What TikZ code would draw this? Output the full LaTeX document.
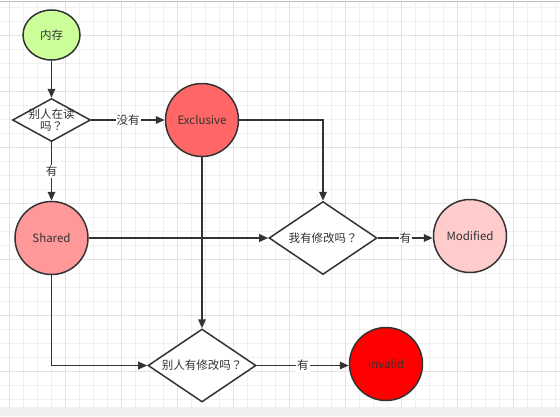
\documentclass[tikz,border=0pt]{standalone}
\usepackage{fontspec}
\setmainfont{Noto Sans CJK SC}
\newfontfamily\qmark{Noto Sans CJK TC}
\usetikzlibrary{shapes.geometric,arrows.meta}

\definecolor{linegray}{HTML}{333333}
\definecolor{textgray}{HTML}{333333}
\definecolor{gridminor}{HTML}{F0F0F0}
\definecolor{gridmajor}{HTML}{E2E2E2}
\definecolor{memgreen}{HTML}{CCFF99}
\definecolor{exclred}{HTML}{FF6666}
\definecolor{sharedred}{HTML}{FF9999}
\definecolor{modpink}{HTML}{FFCCCC}
\definecolor{invred}{HTML}{FF0000}

\tikzset{every picture/.style={line width=1.5pt}}

\begin{document}
\begin{tikzpicture}[x=1pt,y=1pt,yscale=-1,xscale=1,
  txt/.style={text=textgray,font=\fontsize{11.5}{13.5}\selectfont},
  state/.style={circle,draw=linegray,line width=1.5pt,minimum size=73pt,inner sep=0pt,txt},
  ask/.style={diamond,draw=linegray,line width=1.5pt,fill=white,inner sep=0pt},
  flow/.style={draw=linegray,line width=1.7pt,-{Triangle[length=9pt,width=7.5pt]}},
  yes/.style={fill=white,inner sep=1pt,txt}]
\useasboundingbox (0,0) rectangle (560,416);

%Background grid
\fill[white] (0,0) rectangle (560,416);
\foreach \x in {9.3,23.3,...,560} \draw[gridminor,line width=1pt] (\x,2) -- (\x,407);
\foreach \y in {7,21,...,407} \draw[gridminor,line width=1pt] (0,\y) -- (560,\y);
\foreach \x in {9.3,65.3,...,560} \draw[gridmajor,line width=1pt] (\x,2) -- (\x,407);
\foreach \y in {35,91,...,407} \draw[gridmajor,line width=1pt] (0,\y) -- (560,\y);
\fill[gridminor] (0,407) rectangle (560,416);
\draw[black!25,line width=1pt] (0,1.5) -- (560,1.5);

%Shapes
\node[ellipse,draw=linegray,line width=1.5pt,fill=memgreen,minimum width=57pt,minimum height=50pt,inner sep=0pt,txt] (mem) at (51.5,35) {内存};
\node[ask,minimum width=78pt,minimum height=43pt,label={[txt,align=center]center:别人在读\\[-1pt]吗{\qmark ？}}] (readq) at (51.5,120) {};
\node[state,fill=exclred] (excl) at (202,120) {Exclusive};
\node[state,fill=sharedred] (shared) at (51.5,238) {Shared};
\node[ask,minimum width=108pt,minimum height=73pt,label={[txt]center:我有修改吗{\qmark ？}}] (mineq) at (323,238) {};
\node[state,fill=modpink] (modif) at (470,236) {Modified};
\node[ask,minimum width=108pt,minimum height=73pt,label={[txt]center:别人有修改吗{\qmark ？}}] (otherq) at (202,365.5) {};
\node[state,fill=invred] (inval) at (386,364) {Invalid};

%Connectors
\draw[flow] (mem) -- (readq);
\draw[flow] (readq) -- node[yes] {没有} (excl);
\draw[flow] (readq) -- node[yes] {有} (shared);
\draw[flow] (excl) -| (mineq);
\draw[flow] (shared) -- (mineq);
\draw[flow] (mineq) -- node[yes] {有} (modif.west |- mineq.east);
\draw[flow] (excl) -- (otherq);
\draw[flow] (shared) |- (otherq);
\draw[flow] (otherq) -- node[yes] {有} (inval.west |- otherq.east);

\end{tikzpicture}
\end{document}
